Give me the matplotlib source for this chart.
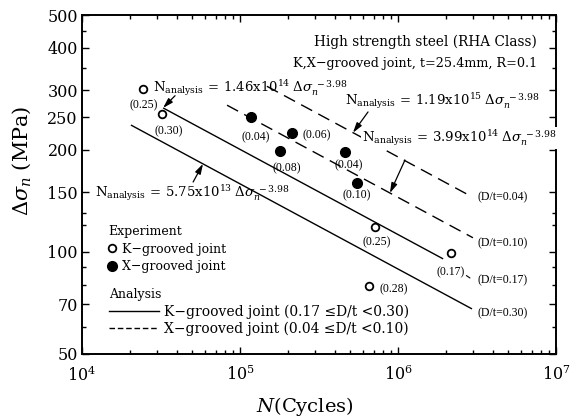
import numpy as np
import matplotlib
matplotlib.use("Agg")
import matplotlib.pyplot as plt
from matplotlib.lines import Line2D
from matplotlib.ticker import FixedLocator, NullFormatter, FixedFormatter

plt.rcParams['font.family'] = ['DejaVu Serif']
plt.rcParams['mathtext.fontset'] = 'dejavuserif'

# ---------------- data ----------------
# K-grooved joint experiments (open circles)
k_cycles = [24300, 32100, 714000, 2160000, 655000]
k_stress = [302, 255, 118.5, 99.3, 79.3]
k_dt = ["(0.25)", "(0.30)", "(0.25)", "(0.17)", "(0.28)"]

# X-grooved joint experiments (filled circles)
x_cycles = [117000, 179000, 213000, 462000, 551000]
x_stress = [250, 198.5, 224, 197, 159.7]
x_dt = ["(0.04)", "(0.08)", "(0.06)", "(0.04)", "(0.10)"]

# Analysis S-N curves: N = C * S^-m
curve_coef = [5.75e13, 1.46e14, 3.99e14, 1.19e15]
curve_m = 3.98
curve_dt = ["(D/t=0.30)", "(D/t=0.17)", "(D/t=0.10)", "(D/t=0.04)"]
curve_joint = ["K", "K", "X", "X"]
curve_nmin = [20400, 32600, 82800, 148000]
curve_nmax = [2.94e6, 1.93e6, 2.98e6, 2.73e6]
curve_coef_mant = ["5.75x10", "1.46x10", "3.99x10", "1.19x10"]
curve_coef_exp = ["13", "14", "14", "15"]

y_ticks = [50, 70, 100, 150, 200, 250, 300, 400, 500]
y_minor = [60, 80, 90, 120, 130, 350, 450]
x_ticks = [1e4, 1e5, 1e6, 1e7]
x_tick_labels = [r"$10^4$", r"$10^5$", r"$10^6$", r"$10^7$"]

# ---------------- layout ----------------
k_lab_pos = [(24700, 271), (35600, 227), (736000, 107), (2160000, 87.2), (944000, 77.7)]
x_lab_pos = [(126000, 218), (198000, 177), (307000, 221), (490000, 180.5), (551000, 147.2)]
curve_lab_pos = [(3.2e6, 66.1), (3.2e6, 82.7), (3.2e6, 106.3), (3.2e6, 145.3)]
eq_text_pos = [(12080, 149.3), (28100, 305), (591000, 216.8), (462000, 278.8)]
eq_arrow_from = [(50500, 160.8), (38800, 289), (1.107e6, 186.7), (646000, 258.8)]
eq_arrow_to_N = [58300, 32600, 889000, 519000]

fig = plt.figure(figsize=(5.71, 4.18), dpi=100)
ax = fig.add_axes([82/571, 1-354/418, (556-82)/571, (354-15)/418])
ax.set_xscale('log')
ax.set_yscale('log')
ax.set_xlim(1e4, 1e7)
ax.set_ylim(50, 500)

# curves
for C, j, n0, n1 in zip(curve_coef, curve_joint, curve_nmin, curve_nmax):
    N = np.logspace(np.log10(n0), np.log10(n1), 50)
    S = (C / N) ** (1.0 / curve_m)
    if j == "K":
        ax.plot(N, S, color='black', lw=1.0, solid_capstyle='butt')
    else:
        ax.plot(N, S, color='black', lw=1.0, dashes=(9, 5))

# points
ax.plot(k_cycles, k_stress, 'o', ms=5.5, mfc='white', mec='black', mew=1.3, zorder=5)
ax.plot(x_cycles, x_stress, 'o', ms=7, mfc='black', mec='black', zorder=5)

lab_font = dict(fontsize=8.5, family='Liberation Serif', ha='center', va='center')
for (n, s), t in zip(k_lab_pos, k_dt):
    ax.text(n, s, t, **lab_font)
for (n, s), t in zip(x_lab_pos, x_dt):
    ax.text(n, s, t, **lab_font)
for (n, s), t in zip(curve_lab_pos, curve_dt):
    ax.text(n, s, t, fontsize=8.5, family='Liberation Serif', ha='left', va='center')

# leader between (0.17) and (D/t=0.17)
ax.annotate("", xy=(2.95e6, 82.9), xytext=(2.62e6, 86.1),
            arrowprops=dict(arrowstyle='-', lw=0.8, color='black'))

# equations with arrows
for i, C in enumerate(curve_coef):
    eq = (r"$\mathrm{N}_{\mathrm{analysis}}\,=\,\mathrm{" + curve_coef_mant[i] + r"}^{" +
          curve_coef_exp[i] + r"}\;\Delta\sigma_n^{\;-3.98}$")
    n, s = eq_text_pos[i]
    bbox = dict(facecolor='white', edgecolor='none', pad=0.5) if i == 2 else None
    ax.text(n, s, eq, fontsize=9.5, ha='left', va='center', zorder=6, bbox=bbox)
    Nt = eq_arrow_to_N[i]
    St = (C / Nt) ** (1.0 / curve_m)
    ax.annotate("", xy=(Nt, St), xytext=eq_arrow_from[i],
                arrowprops=dict(arrowstyle='-|>,head_length=0.6,head_width=0.18',
                                lw=0.9, color='black', shrinkA=0, shrinkB=0), zorder=7)

# heading
ax.text(0.96, 0.920, "High strength steel (RHA Class)", transform=ax.transAxes,
        ha='right', va='center', fontsize=9.8)
ax.text(0.96, 0.858, "K,X\u2212grooved joint, t=25.4mm, R=0.1", transform=ax.transAxes,
        ha='right', va='center', fontsize=9.2)

# legends
h_k = Line2D([], [], ls='none', marker='o', ms=5.5, mfc='white', mec='black', mew=1.3)
h_x = Line2D([], [], ls='none', marker='o', ms=7, mfc='black', mec='black')
leg1 = ax.legend([h_k, h_x], ["K\u2212grooved joint", "X\u2212grooved joint"],
                 title="Experiment", loc='upper left', bbox_to_anchor=(0.036, 0.405),
                 frameon=False, fontsize=9, title_fontsize=9, handlelength=0.6,
                 handletextpad=0.5, labelspacing=0.35, borderpad=0.2)
leg1._legend_box.align = "left"
ax.add_artist(leg1)
h_s = Line2D([], [], color='black', lw=1.0)
h_d = Line2D([], [], color='black', lw=1.0, dashes=(4, 2))
leg2 = ax.legend([h_s, h_d], ["K\u2212grooved joint (0.17 \u2264D/t <0.30)",
                              "X\u2212grooved joint (0.04 \u2264D/t <0.10)"],
                 title="Analysis", loc='upper left', bbox_to_anchor=(0.036, 0.222),
                 frameon=False, fontsize=10, title_fontsize=9, handlelength=3.6,
                 handletextpad=0.35, labelspacing=0.2, borderpad=0.2)
leg2._legend_box.align = "left"

# ticks
ax.yaxis.set_major_locator(FixedLocator(y_ticks))
ax.yaxis.set_major_formatter(FixedFormatter([str(v) for v in y_ticks]))
ax.yaxis.set_minor_locator(FixedLocator(y_minor))
ax.yaxis.set_minor_formatter(NullFormatter())
ax.xaxis.set_major_locator(FixedLocator(x_ticks))
ax.xaxis.set_major_formatter(FixedFormatter(x_tick_labels))
ax.tick_params(which='both', direction='in', top=True, right=True, width=1.0)
ax.tick_params(which='major', length=5, labelsize=11.5)
ax.tick_params(axis='y', which='major', pad=3)
ax.tick_params(axis='x', which='major', pad=8)
ax.tick_params(which='minor', length=3)
for sp in ax.spines.values():
    sp.set_linewidth(1.4)

ax.set_ylabel(r"$\Delta\sigma_n$ (MPa)", fontsize=15)
ax.yaxis.set_label_coords(-0.104, 0.569)
ax.set_xlabel(r"$N$(Cycles)", fontsize=14)
ax.xaxis.set_label_coords(0.47, -0.122)

fig.savefig("out.png", dpi=100)
